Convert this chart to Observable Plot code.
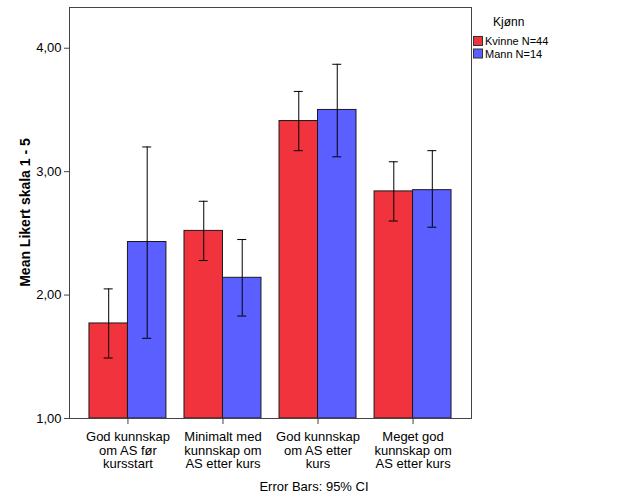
<!DOCTYPE html>
<html><head><meta charset="utf-8">
<script src="https://cdn.jsdelivr.net/npm/d3@7"></script>
<script src="https://cdn.jsdelivr.net/npm/@observablehq/plot@0.6"></script>
<style>body{margin:0;background:#fff;} #chart{width:629px;height:504px;}</style>
</head><body><div id="chart"></div>
<script>
// ---- data ----
const categories = ["God før", "Minimalt etter", "God etter", "Meget god etter"];
const tickLabels = [
  "God kunnskap\nom AS før\nkursstart",
  "Minimalt med\nkunnskap om\nAS etter kurs",
  "God kunnskap\nom AS etter\nkurs",
  "Meget god\nkunnskap om\nAS etter kurs"
];
const series = ["Kvinne N=44", "Mann N=14"];
const kvinneMean = [1.77, 2.52, 3.41, 2.84];
const kvinneLo   = [1.49, 2.28, 3.17, 2.60];
const kvinneHi   = [2.05, 2.76, 3.65, 3.08];
const mannMean   = [2.43, 2.14, 3.50, 2.85];
const mannLo     = [1.65, 1.83, 3.12, 2.55];
const mannHi     = [3.20, 2.45, 3.87, 3.17];
const yTicks = [1, 2, 3, 4];
const legendTitle = "Kjønn";
const yLabel = "Mean Likert skala 1 - 5";
const caption = "Error Bars: 95% CI";

// ---- build table ----
const rows = [];
categories.forEach((c, i) => {
  rows.push({cat: c, sex: series[0], mean: kvinneMean[i], lo: kvinneLo[i], hi: kvinneHi[i]});
  rows.push({cat: c, sex: series[1], mean: mannMean[i], lo: mannLo[i], hi: mannHi[i]});
});
const K = rows.filter(d => d.sex === series[0]);
const M = rows.filter(d => d.sex === series[1]);

const W = 629, H = 504, ML = 69, MR = 158, MT = 7, MB = 86;
const PI = 0.19, PO = 0.21;
const band = d3.scaleBand().domain(categories).range([ML, W - MR]).paddingInner(PI).paddingOuter(PO);
const bw = band.bandwidth();
const colors = ["#f0333c", "#5b5fff"];
const cap = 9;
const font = "Arial, 'Liberation Sans', sans-serif";

const plot = Plot.plot({
  width: W, height: H,
  marginLeft: ML, marginRight: MR, marginTop: MT, marginBottom: MB,
  style: {fontFamily: font, fontSize: "13px", background: "#fff", color: "#000"},
  x: {type: "band", domain: categories, paddingInner: PI, paddingOuter: PO, round: false},
  y: {domain: [1, 4.33]},
  color: {domain: series, range: colors},
  marks: [
    Plot.barY(K, {x: "cat", y1: 1, y2: "mean", fill: "sex", stroke: "#1a1a1a", strokeWidth: 1, insetRight: bw / 2}),
    Plot.barY(M, {x: "cat", y1: 1, y2: "mean", fill: "sex", stroke: "#1a1a1a", strokeWidth: 1, insetLeft: bw / 2}),
    Plot.ruleX(K, {x: "cat", y1: "lo", y2: "hi", dx: -bw / 4, stroke: "#000"}),
    Plot.ruleX(M, {x: "cat", y1: "lo", y2: "hi", dx: bw / 4, stroke: "#000"}),
    Plot.tickY(K, {x: "cat", y: "hi", dx: -bw / 4, insetLeft: (bw - cap) / 2, insetRight: (bw - cap) / 2, stroke: "#000"}),
    Plot.tickY(K, {x: "cat", y: "lo", dx: -bw / 4, insetLeft: (bw - cap) / 2, insetRight: (bw - cap) / 2, stroke: "#000"}),
    Plot.tickY(M, {x: "cat", y: "hi", dx: bw / 4, insetLeft: (bw - cap) / 2, insetRight: (bw - cap) / 2, stroke: "#000"}),
    Plot.tickY(M, {x: "cat", y: "lo", dx: bw / 4, insetLeft: (bw - cap) / 2, insetRight: (bw - cap) / 2, stroke: "#000"}),
    Plot.frame({stroke: "#444"}),
    Plot.axisY({ticks: yTicks, tickFormat: d => d3.format(".2f")(d).replace(".", ","), tickSize: 5, tickPadding: 3, label: null, fontSize: 13, stroke: "#444"}),
    Plot.axisX({tickSize: 6, tickPadding: 7, lineHeight: 1.05, tickFormat: d => tickLabels[categories.indexOf(d)], label: null, fontSize: 13, stroke: "#444"})
  ]
});

document.getElementById("chart").appendChild(plot);
const svg = d3.select(plot);

// y label
svg.append("text")
  .attr("transform", "translate(25,212.5) rotate(-90)")
  .attr("text-anchor", "middle").attr("dy", "0.35em")
  .style("font", `bold 14px ${font}`).attr("fill", "#000")
  .text(yLabel);

// caption
svg.append("text")
  .attr("x", 314).attr("y", 490.5).attr("text-anchor", "middle")
  .style("font", `13px ${font}`).attr("fill", "#000")
  .text(caption);

// legend
svg.append("text").attr("x", 493).attr("y", 26).attr("text-anchor", "start")
  .style("font", `12px ${font}`).attr("fill", "#000").text(legendTitle);
series.forEach((s, i) => {
  const y0 = 36.5 + i * 12.5;
  svg.append("rect").attr("x", 473.5).attr("y", y0).attr("width", 9).attr("height", 9)
    .attr("fill", colors[i]).attr("stroke", "#333");
  svg.append("text").attr("x", 485).attr("y", y0 + 8.5).attr("text-anchor", "start")
    .style("font", `11px ${font}`).attr("fill", "#000").text(s);
});
</script>
</body></html>
